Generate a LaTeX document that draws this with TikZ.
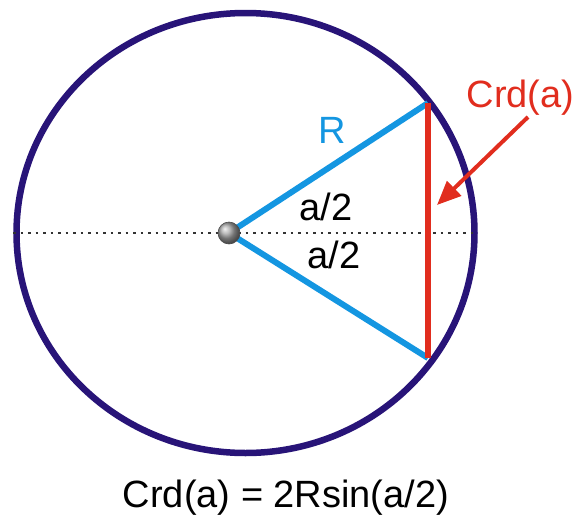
\documentclass[tikz,border=0pt]{standalone}
\usepackage{fontspec}
\setmainfont{Liberation Sans}
\usetikzlibrary{arrows.meta,shapes.geometric}
\definecolor{rim}{RGB}{40,20,120}
\definecolor{rad}{RGB}{20,150,225}
\definecolor{chord}{RGB}{225,45,30}
\tikzset{
  lbl/.style={inner sep=0pt, anchor=base, font=\fontsize{38}{40}\selectfont},
  radius line/.style={draw=rad, line width=6pt},
}
\begin{document}
\begin{tikzpicture}[x=1pt,y=-1pt]
\useasboundingbox (0,0) rectangle (584,517);
\coordinate (C) at (245.5,233);
\coordinate (O) at (229,233);
\coordinate (A) at (428,103);
\coordinate (B) at (428,358);
\coordinate (L) at (13,233);
\coordinate (Rt) at (473,233);
\coordinate (S) at (528,117);
\coordinate (T) at (437,205);
% circle
\draw[rim, line width=6.5pt] (C) ellipse [x radius=229, y radius=220];
% dotted diameter
\draw[black!80, line width=2.5pt, dash pattern=on 2.5pt off 5pt] (L) -- (Rt);
% radii
\draw[radius line] (A) -- (O) -- (B);
% chord
\draw[chord, line width=6pt] (A) -- (B);
% arrow
\draw[chord, line width=4pt, -{Triangle[length=24pt,width=20pt]}] (S) -- (T);
% centre ball
\shade[ball color=gray!70] (O) circle[radius=11];
\draw[black!70, line width=0.6pt] (O) circle[radius=11];
% labels
\node[lbl, text=chord] (crd) at (520.5,107) {Crd(a)};
\node[lbl, text=rad] (r) at (332,143) {R};
\node[lbl] (h1) at (326,220) {a/2};
\node[lbl] (h2) at (334,268) {a/2};
\node[lbl] (f) at (286,507) {Crd(a) = 2Rsin(a/2)};
\end{tikzpicture}
\end{document}
